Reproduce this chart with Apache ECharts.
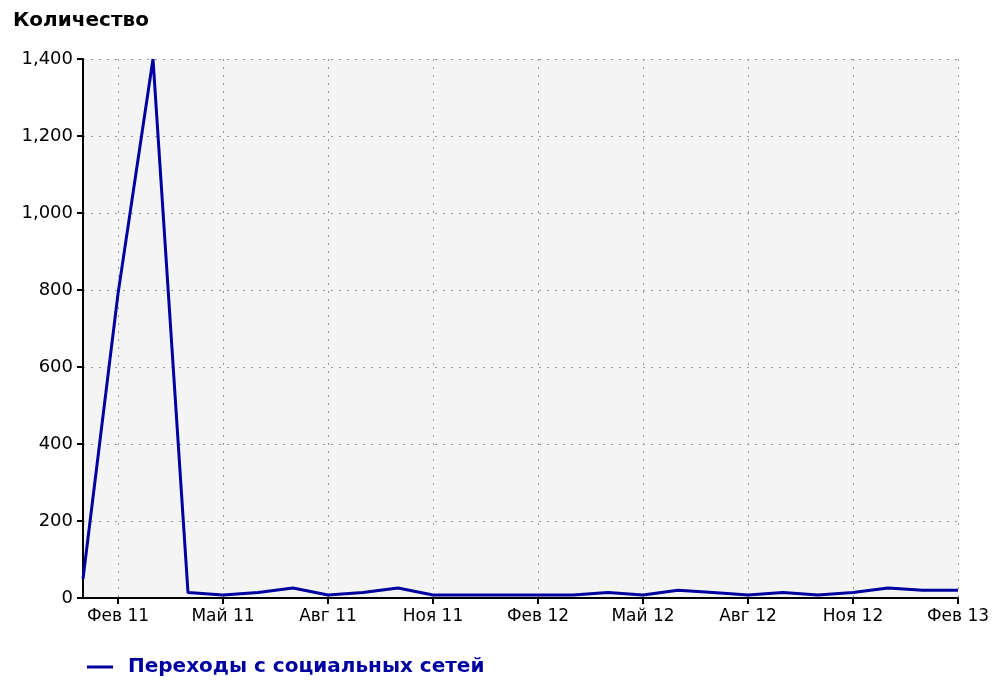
<!DOCTYPE html>
<html>
<head>
<meta charset="utf-8">
<script src="https://cdn.jsdelivr.net/npm/echarts@6/dist/echarts.min.js"></script>
<style>
html,body{margin:0;padding:0;background:#fff;}
#chart{width:997px;height:680px;}
</style>
</head>
<body>
<div id="chart"></div>
<script>
const categories = ['Янв 11','Фев 11','Мар 11','Апр 11','Май 11','Июн 11','Июл 11','Авг 11','Сен 11','Окт 11','Ноя 11','Дек 11',
  'Янв 12','Фев 12','Мар 12','Апр 12','Май 12','Июн 12','Июл 12','Авг 12','Сен 12','Окт 12','Ноя 12','Дек 12',
  'Янв 13','Фев 13'];
const seriesName = 'Переходы с социальных сетей';
const values = [50, 790, 1400, 14, 8, 14, 26, 8, 14, 26, 8, 8, 8, 8, 8, 14, 8, 20, 14, 8, 14, 8, 14, 26, 20, 20];
const yTitle = 'Количество';
const yMax = 1400, yStep = 200;

const FONT = 'DejaVu Sans';
const showIdx = (i) => i % 3 === 1;

const chart = echarts.init(document.getElementById('chart'), null, {renderer: 'canvas'});
chart.setOption({
  animation: false,
  backgroundColor: '#ffffff',
  title: {
    text: yTitle, left: 8, top: 6,
    textStyle: {fontFamily: FONT, fontWeight: 'bold', fontSize: 20, color: '#000'}
  },
  grid: {
    left: 83, right: 39, top: 59, bottom: 82,
    show: true, backgroundColor: '#f4f4f4', borderWidth: 0
  },
  legend: {
    left: 82, top: 652,
    icon: 'rect', itemWidth: 26, itemHeight: 3, itemGap: 10,
    textStyle: {fontFamily: FONT, fontWeight: 'bold', fontSize: 20, color: '#0000a0', padding: [0,0,0,10]},
    data: [seriesName]
  },
  xAxis: {
    type: 'category',
    boundaryGap: false,
    data: categories,
    axisLine: {show: true, lineStyle: {color: '#000', width: 2}},
    axisTick: {show: true, length: 6, interval: (i) => showIdx(i), lineStyle: {color: '#000', width: 2}},
    axisLabel: {interval: (i) => showIdx(i), margin: 10, fontFamily: FONT, fontSize: 17, color: '#000'},
    splitLine: {show: true, interval: (i) => showIdx(i), lineStyle: {color: '#999', type: [2, 6], width: 1}}
  },
  yAxis: {
    type: 'value',
    min: 0, max: yMax, interval: yStep,
    axisLine: {show: true, lineStyle: {color: '#000', width: 2}},
    axisTick: {show: true, length: 6, lineStyle: {color: '#000', width: 2}},
    axisLabel: {margin: 10, fontFamily: FONT, fontSize: 18, color: '#000',
      formatter: (v) => v.toLocaleString('en-US')},
    splitLine: {show: true, lineStyle: {color: '#999', type: [2, 6], width: 1}}
  },
  series: [{
    name: seriesName,
    type: 'line',
    data: values,
    symbol: 'none',
    lineStyle: {color: '#0000a0', width: 3},
    itemStyle: {color: '#0000a0'},
    z: 3
  }]
});
</script>
</body>
</html>
